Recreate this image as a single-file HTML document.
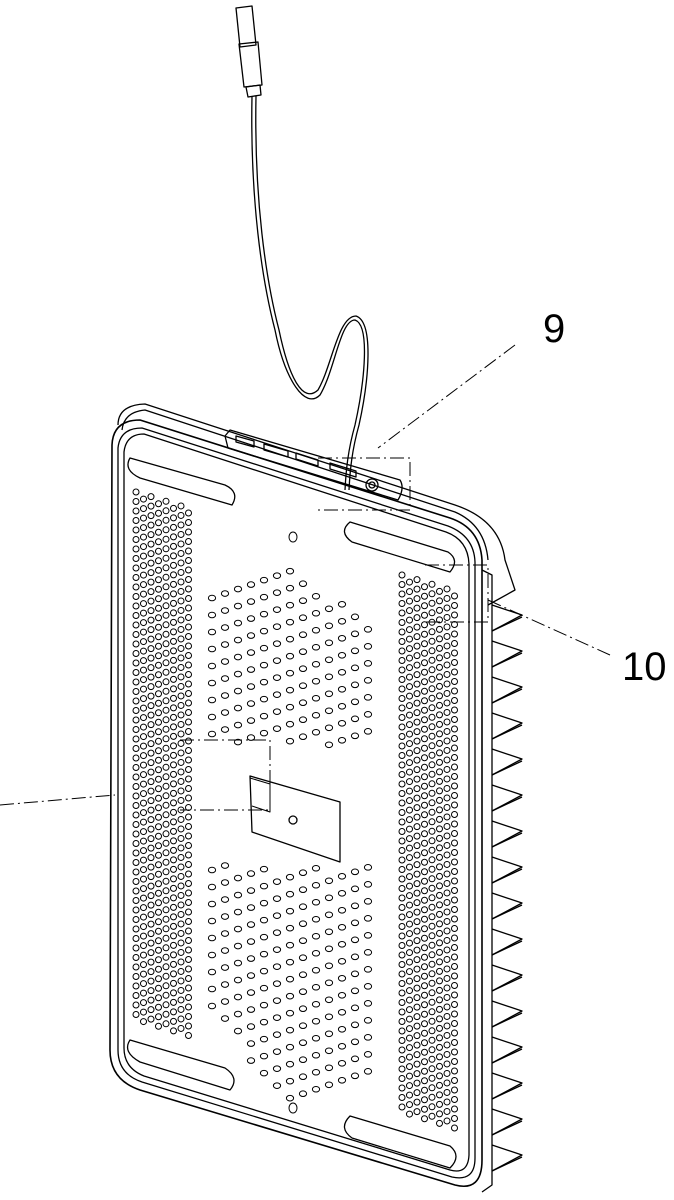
<!DOCTYPE html>
<html><head><meta charset="utf-8"><style>
html,body{margin:0;padding:0;background:#fff;width:674px;height:1200px;overflow:hidden}
svg{display:block}
text{font-family:"Liberation Sans",sans-serif;}
</style></head><body>
<svg id="s" width="674" height="1200" viewBox="0 0 674 1200" xmlns="http://www.w3.org/2000/svg">
<g fill="none" stroke="#000" stroke-width="1.3" stroke-linejoin="round">
<!-- USB plug -->
<path d="M236 8 L252 6 L256 45 L240 47 Z"/>
<path d="M239 44 L258 42 L262 85 L244 87 Z"/>
<path d="M246 87 L260 85 L261 95 L248 97 Z"/>
<!-- cable -->
<path d="M252 96 C250 200 262 280 275 330 C285 380 305 410 320 395 C335 370 340 320 355 320 C370 325 365 380 355 425 C348 450 346 470 345 490"/>
<path d="M256 96 C254 200 266 280 279 330 C289 378 303 404 318 390 C332 366 338 316 356 316 C374 322 369 380 359 425 C352 450 350 470 349 490"/>
<!-- top body -->
<path d="M118 425 Q118 405 145 404 L455 505 Q500 520 505 560 L515 590 L488 605"/>
<path d="M122 430 Q124 412 145 410 L455 512 Q485 525 488 560"/>
<!-- main plate outline -->
<path d="M112 445 Q113 420 140 420 L450 518 Q480 528 482 560 L482 1160 Q482 1192 455 1185 L140 1090 Q110 1080 110 1050 Z" stroke-width="1.6"/>
<path d="M118 448 Q120 428 142 428 L448 526 Q474 536 475 562 L475 1158 Q475 1182 452 1177 L142 1082 Q118 1074 118 1050 Z"/>
<path d="M124 452 Q126 434 144 434 L446 532 Q468 540 469 564 L469 1155 Q468 1175 450 1170 L144 1076 Q124 1068 124 1048 Z"/>
<!-- side right face -->
<path d="M482 570 L492 575 L492 1185 L482 1192"/>
<!-- button strip -->
<path d="M225 436 L230 430 L400 480 Q405 488 398 500 L228 448 Z"/>
<path d="M236 436 L254 441 L254 447 L236 442 Z"/>
<path d="M264 444 L288 451 L288 457 L264 450 Z"/>
<path d="M296 453 L318 460 L318 466 L296 459 Z"/>
<path d="M330 463 L356 471 L356 477 L330 469 Z"/>
<circle cx="372" cy="485" r="6"/><circle cx="372" cy="485" r="3"/>
<!-- feet pads -->
<path d="M130 458 L225 485 Q240 492 232 505 L140 478 Q123 470 130 458 Z"/>
<path d="M350 522 L448 552 Q460 560 450 572 L352 542 Q338 532 350 522 Z"/>
<path d="M130 1040 L225 1068 Q240 1078 230 1090 L140 1062 Q122 1052 130 1040 Z"/>
<path d="M350 1116 L450 1146 Q462 1156 450 1168 L352 1138 Q338 1128 350 1116 Z"/>
<!-- center rectangle -->
<path d="M250 776 L340 802 L340 862 L252 832 Z"/>
<circle cx="293" cy="820" r="4"/>
<path d="M250 778 L270 784 L270 812 L252 806" stroke-width="1"/>
<g id="fins"></g>
<g id="holes" stroke-width="1"></g>
</g>
<g fill="none" stroke="#000" stroke-width="1" stroke-dasharray="14 4 2 4">
<path d="M515 345 L378 448"/>
<path d="M318 458 L410 458 L410 510 L318 510"/>
<path d="M425 565 L488 565 L488 622 L425 622"/>
<path d="M488 600 L610 655"/>
<path d="M0 805 L115 795"/>
<path d="M180 740 L270 740 L270 810 L180 810"/>
</g>
<text x="543" y="342" font-size="40">9</text>
<text x="622" y="680" font-size="40">10</text>
</svg>
<script>
var ns="http://www.w3.org/2000/svg";
var h=document.getElementById('holes'),f=document.getElementById('fins');
function e(tag,a,p){var el=document.createElementNS(ns,tag);for(var k in a)el.setAttribute(k,a[k]);p.appendChild(el);}
var sl=0.31;
function grid(x0,x1,y0,y1,dx,dy,rx,ry,skipFn){
 for(var x=x0;x<=x1;x+=dx){var col=Math.round((x-x0)/dx);
  for(var y=y0+(col%2)*dy/2;y<=y1;y+=dy){var yy=y+(x-x0)*sl;
   if(skipFn&&skipFn(x,yy))continue;
   e('ellipse',{cx:x,cy:yy,rx:rx,ry:ry},h);}}}
grid(136,190,492,1020,7.5,9.5,3,3,null);
grid(402,458,575,1112,7.5,9.5,3,3,null);
grid(212,380,530,1090,13,17,3.6,2.8,function(x,y){return (y>745&&y<865)|| (y-((x-212)*sl))<540+Math.abs(x-296)*0.5 || (y-((x-212)*sl))>1080-Math.abs(x-296)*0.7;});
e('ellipse',{cx:293,cy:537,rx:4,ry:5},h);
e('ellipse',{cx:293,cy:1108,rx:4,ry:5},h);
for(var y=605;y<1180;y+=36){
 e('path',{d:'M492 '+y+' L522 '+(y+10)+' L492 '+(y+26)},f);
 e('path',{d:'M492 '+(y+26)+' L522 '+(y+12)},f);
}
</script>
</body></html>
